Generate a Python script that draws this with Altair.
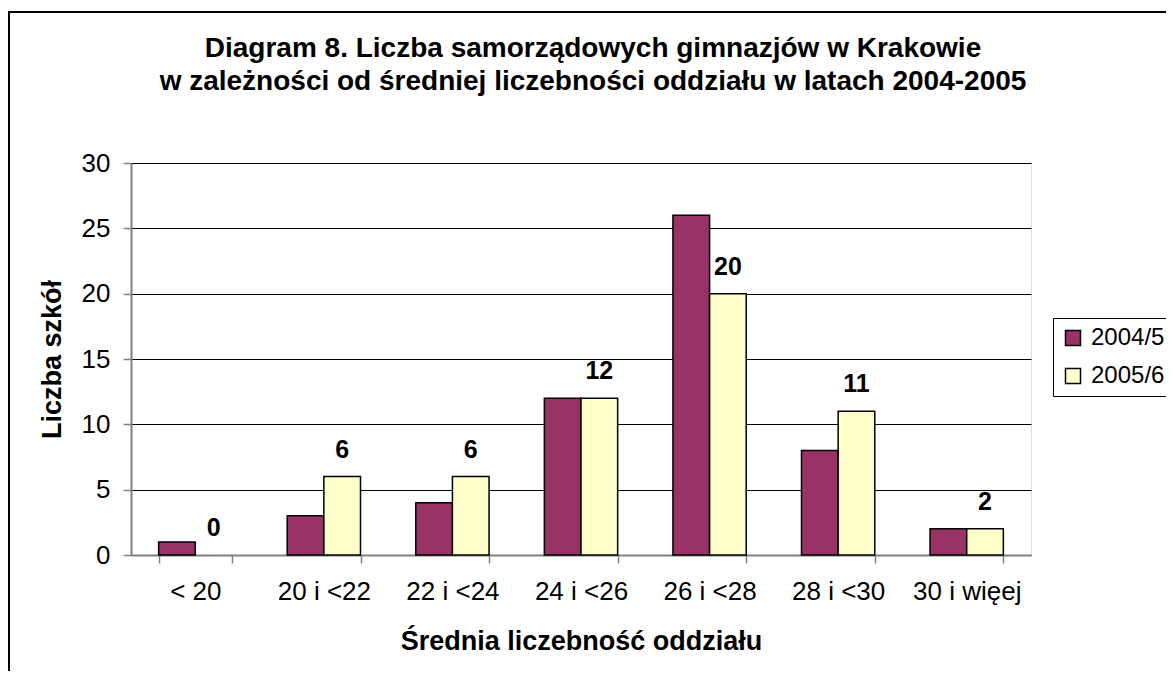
import altair as alt
import pandas as pd

categories = ["< 20", "20 i <22", "22 i <24", "24 i <26", "26 i <28", "28 i <30", "30 i więej"]
series_names = ["2004/5", "2005/6"]
values_2004 = [1, 3, 4, 12, 26, 8, 2]
values_2005 = [0, 6, 6, 12, 20, 11, 2]
series_colors = ["#993366", "#FFFFCC"]
y_ticks = [0, 5, 10, 15, 20, 25, 30]

rows = []
for c, a, b in zip(categories, values_2004, values_2005):
    rows.append({"kat": c, "rok": series_names[0], "liczba": a})
    rows.append({"kat": c, "rok": series_names[1], "liczba": b})
df = pd.DataFrame(rows)

FONT = "Liberation Sans"

x_enc = alt.X(
    "kat:N",
    sort=categories,
    scale=alt.Scale(paddingInner=0.43, paddingOuter=0.215),
    axis=alt.Axis(
        title="Średnia liczebność oddziału",
        labelAngle=0,
        tickBand="extent",
        grid=False,
        domainColor="#808080",
        domainWidth=2,
        tickColor="#808080",
        tickWidth=1.5,
        tickSize=8,
        labelPadding=15,
        labelFontSize=26,
        labelFont=FONT,
        labelColor="black",
        titleFontSize=27,
        titleFont=FONT,
        titleFontWeight="bold",
        titleColor="black",
        titleX=450,
        titleY=86,
        titleBaseline="middle",
    ),
)
xoff_enc = alt.XOffset("rok:N", sort=series_names, scale=alt.Scale(paddingInner=0, paddingOuter=0))
y_enc = alt.Y(
    "liczba:Q",
    scale=alt.Scale(domain=[0, 30], nice=False),
    axis=alt.Axis(
        title="Liczba szkół",
        values=y_ticks,
        grid=True,
        gridColor="black",
        gridWidth=1,
        domainColor="#808080",
        domainWidth=2,
        tickColor="#808080",
        tickWidth=1.5,
        tickSize=8,
        labelPadding=13,
        labelFontSize=26,
        labelFont=FONT,
        labelColor="black",
        titleFontSize=27,
        titleFont=FONT,
        titleFontWeight="bold",
        titleColor="black",
        titleAngle=270,
        titleX=-79,
        titleY=196,
        titleBaseline="middle",
        titleAlign="center",
    ),
)

bars = alt.Chart(df).mark_bar(stroke="black").encode(
    x=x_enc,
    xOffset=xoff_enc,
    y=y_enc,
    fill=alt.Fill(
        "rok:N",
        scale=alt.Scale(domain=series_names, range=series_colors),
        legend=alt.Legend(
            title=None,
            orient="none",
            legendX=922,
            legendY=155,
            strokeColor="black",
            fillColor="white",
            padding=8,
            symbolType="square",
            symbolSize=225,
            symbolStrokeColor="black",
            symbolStrokeWidth=1.5,
            labelFontSize=24,
            labelFont=FONT,
            labelColor="black",
            labelOffset=6,
            rowPadding=14,
        ),
    ),
    strokeWidth=alt.condition("datum.liczba == 0", alt.value(0), alt.value(1.5)),
)

labels = alt.Chart(df).transform_filter(
    alt.datum.rok == series_names[1]
).mark_text(
    dy=-27, baseline="middle", align="center", fontSize=25, fontWeight="bold", font=FONT, color="black"
).encode(
    x=x_enc,
    xOffset=xoff_enc,
    y=y_enc,
    text=alt.Text("liczba:Q"),
)

frame = alt.Chart(alt.Data(values=[{"f": 1}])).mark_rect(
    fillOpacity=0, stroke="black", strokeWidth=2
).encode(
    x=alt.value(-122), x2=alt.value(1400), y=alt.value(-151), y2=alt.value(1000)
)

chart = alt.layer(frame, bars, labels).properties(
    width=900,
    height=392,
    autosize=alt.AutoSizeParams(type="none"),
    padding={"left": 123, "top": 155, "right": 135, "bottom": 116},
    title=alt.Title(
        ["Diagram 8. Liczba samorządowych gimnazjów w Krakowie",
         "w zależności od średniej liczebności oddziału w latach 2004-2005"],
        fontSize=28,
        font=FONT,
        fontWeight="bold",
        color="black",
        lineHeight=33,
        anchor="middle",
        dx=12,
        offset=-85,
    ),
).configure_view(stroke="#808080", strokeWidth=2).configure(background="white")

chart.save("out.html", embed_options={"renderer": "svg", "actions": False})
